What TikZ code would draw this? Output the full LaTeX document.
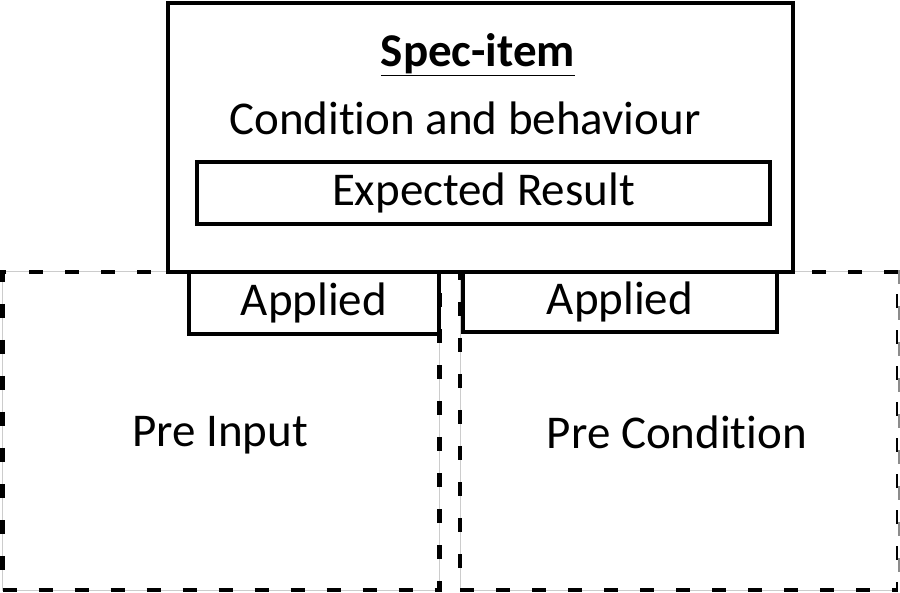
\documentclass[tikz,border=0pt]{standalone}
\usepackage{fontspec}
\setmainfont[Ligatures=NoCommon]{Carlito}
\usepackage{tikz}
\usetikzlibrary{positioning}

\tikzset{
  solidbox/.style={draw=black,line width=4.5pt,fill=white,inner sep=0pt},
  dashbox/.style={draw=black,line width=4.5pt,dash pattern=on 14pt off 22pt,inner sep=0pt},
  label/.style={font=\fontsize{47}{56}\selectfont}
}

\begin{document}
\begin{tikzpicture}[x=1pt,y=-1pt]
\useasboundingbox (0,0) rectangle (900,593);
% Pre boxes (dashed)
\node[draw=black!20,line width=1pt,minimum width=437pt,minimum height=318pt] at (221,431) {};
\node[draw=black!20,line width=1pt,minimum width=438pt,minimum height=318pt] at (679,431) {};
\node[dashbox,minimum width=437pt,minimum height=318pt] (preinput) at (221,431) {};
\node[dashbox,minimum width=438pt,minimum height=318pt] (precond) at (679,431) {};
\draw[white,line width=5pt] (precond.north east) -- (precond.south east);
\draw[black!45,line width=4.5pt,dash pattern=on 14pt off 22pt] (precond.north east) -- (precond.south east);
\node[label] at (220,435) {Pre Input};
\node[label] at (677,432) {Pre Condition};

% Spec-item
\node[solidbox,minimum width=625pt,minimum height=269pt] (spec) at (480.5,137.5) {};
\node[label] (title) at (478,55) {\textbf{\underline{Spec-item}}};
\node[label] (cond) at (465,118) {Condition and behaviour};
\node[solidbox,label,minimum width=573pt,minimum height=62pt] (result) at (483.5,193) {Expected Result};

% Applied
\node[solidbox,label,minimum width=250pt,minimum height=62pt] (appin) at (314,303) {Applied};
\node[solidbox,label,minimum width=314pt,minimum height=60pt] (appcond) at (620,302) {Applied};
\end{tikzpicture}
\end{document}
